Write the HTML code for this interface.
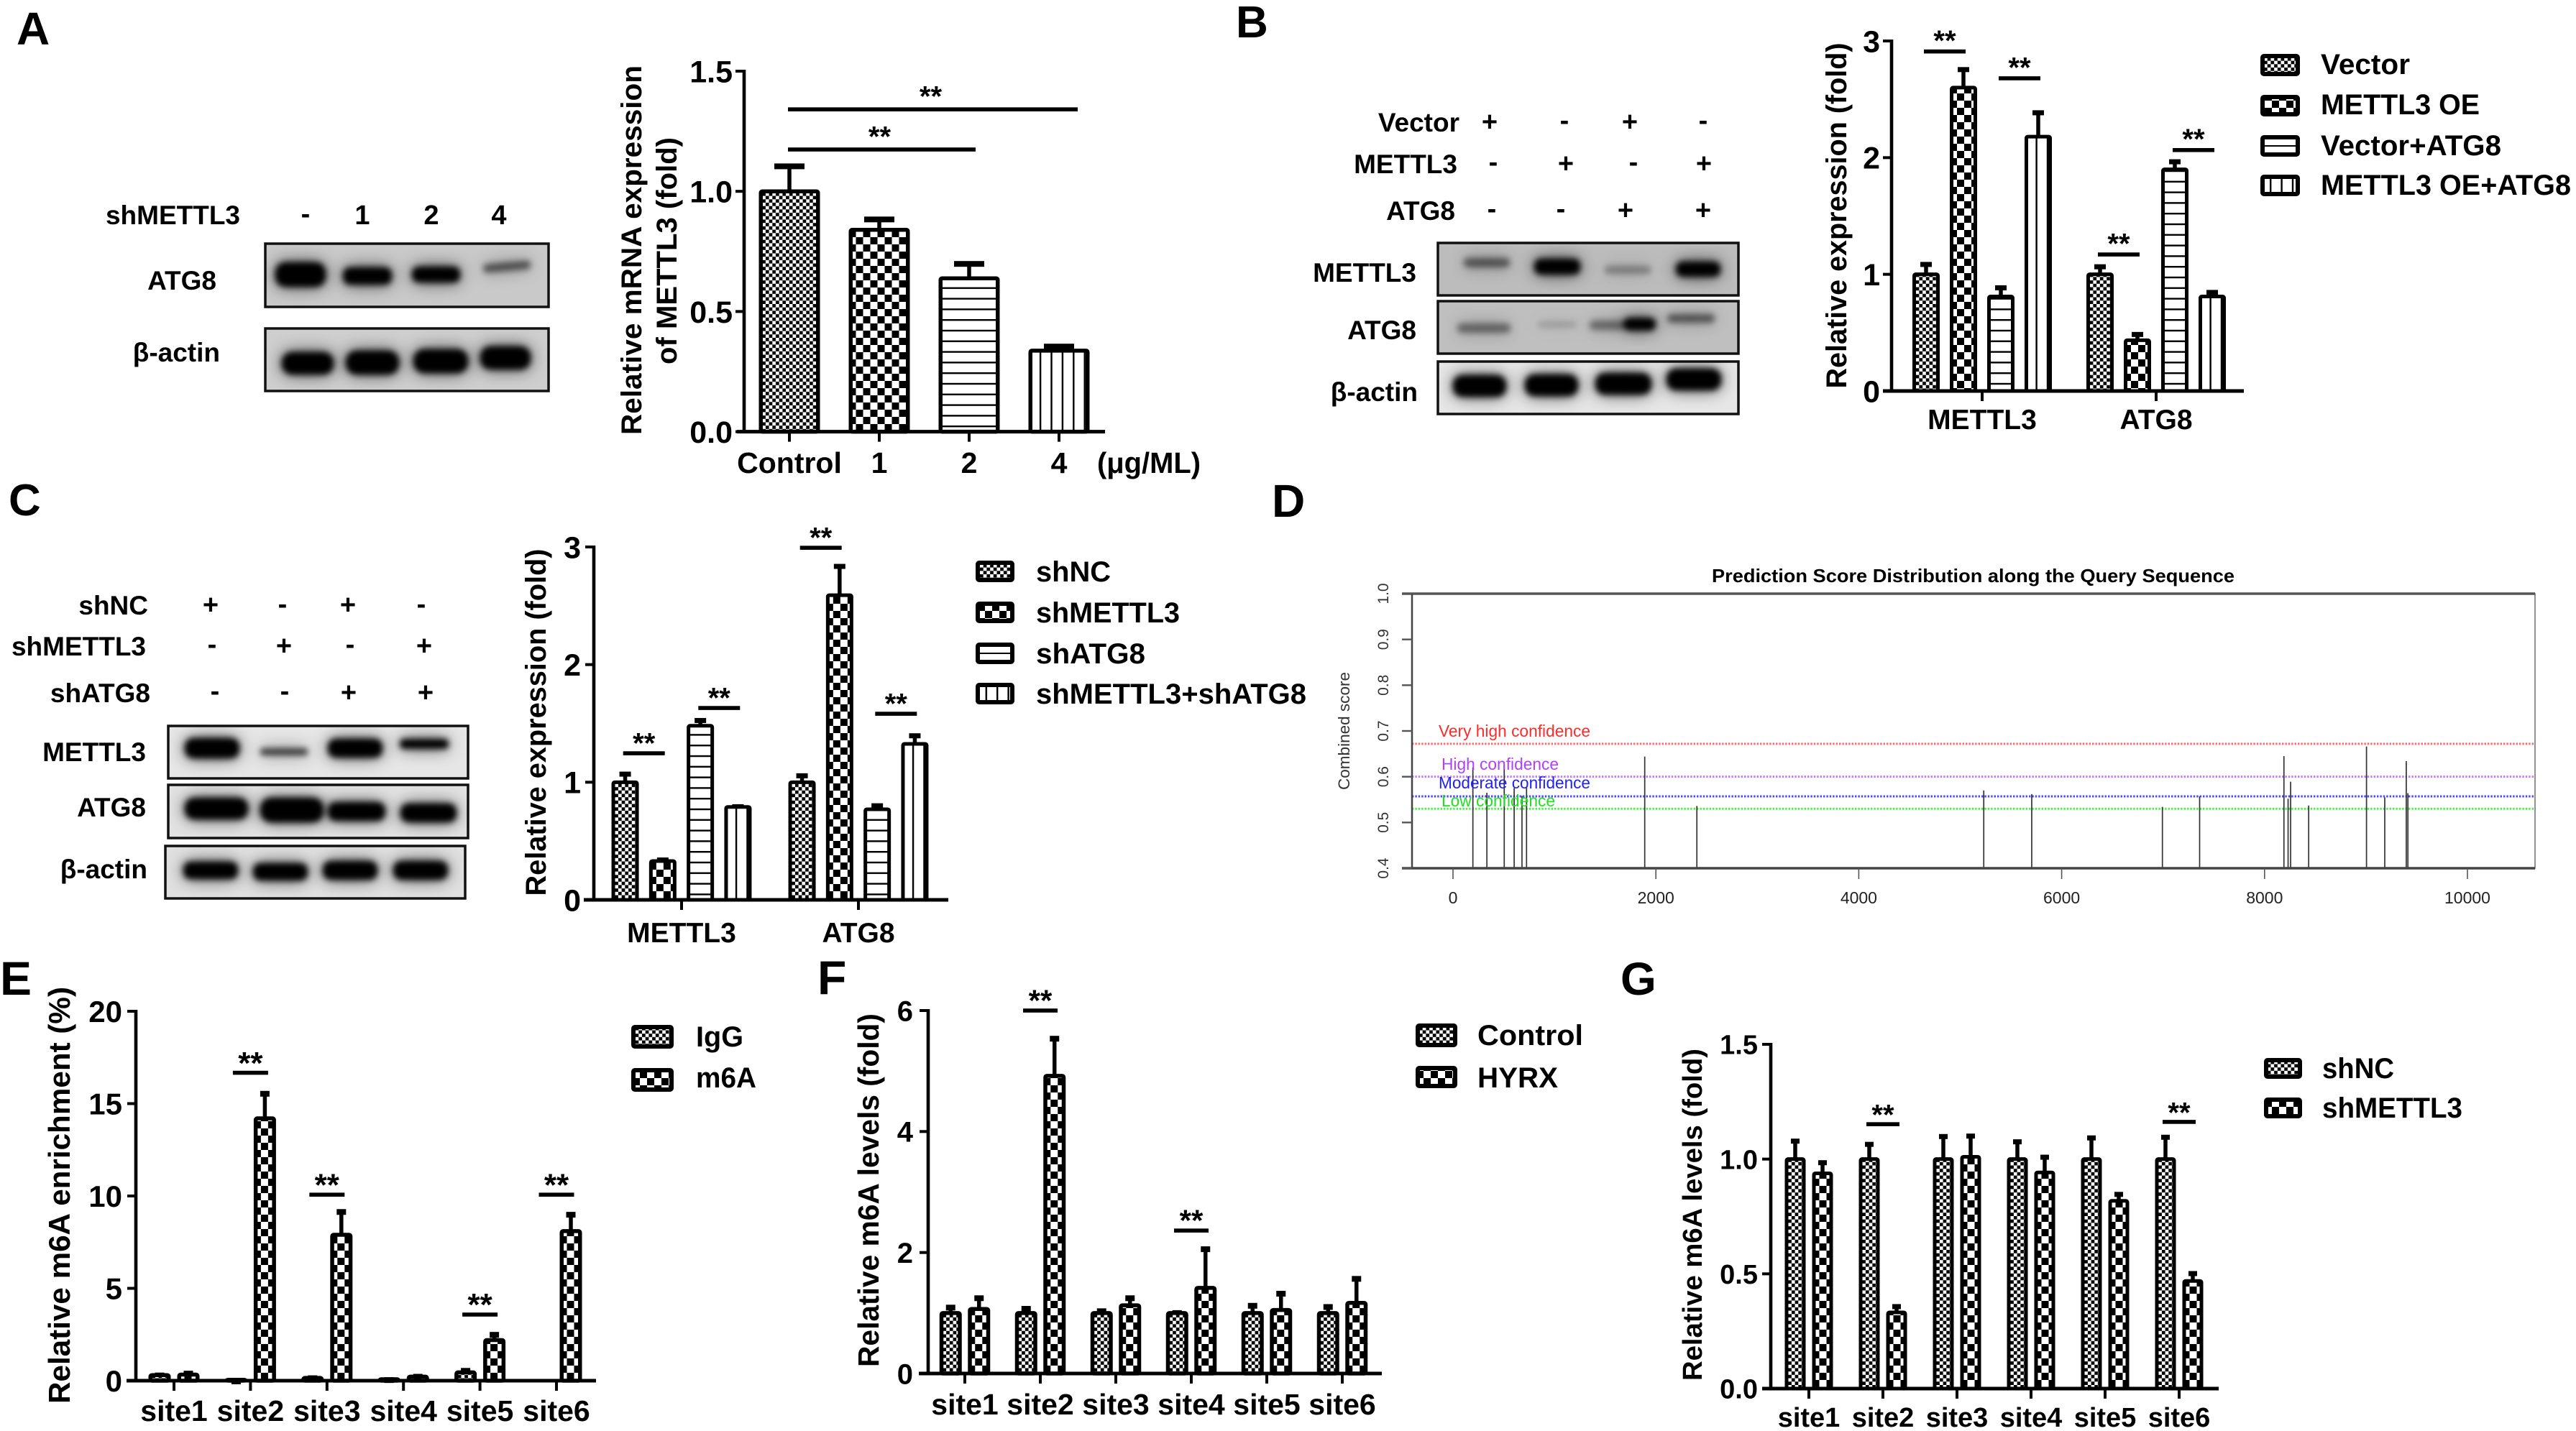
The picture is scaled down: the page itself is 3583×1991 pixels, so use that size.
<!DOCTYPE html>
<html lang="en">
<head>
<meta charset="utf-8">
<title>METTL3 and ATG8 multi-panel figure</title>
<style>
html,body{margin:0;padding:0;background:#fff;}
svg{display:block;}
text{font-family:"Liberation Sans",Arial,sans-serif;font-weight:700;fill:#000;}
.letter{font-size:64px;}
.lab{font-size:37px;}
.pm{font-size:38px;text-anchor:middle;}
.end{text-anchor:end;}
.leg{font-size:40px;}
.mid{text-anchor:middle;}
.reg{font-weight:400;}
</style>
</head>
<body>
<svg id="root" xmlns="http://www.w3.org/2000/svg" width="3583" height="1991" viewBox="0 0 3583 1991">
<defs>
  <pattern id="fine" width="9.4" height="9.4" patternUnits="userSpaceOnUse"><rect width="9.4" height="9.4" fill="#fff"/><rect width="4.7" height="4.7" fill="#000"/><rect x="4.7" y="4.7" width="4.7" height="4.7" fill="#000"/></pattern>
  <pattern id="coarse" width="20" height="20" patternUnits="userSpaceOnUse"><rect width="20" height="20" fill="#fff"/><rect x="0" y="0" width="10" height="10" fill="#000"/><rect x="10" y="10" width="10" height="10" fill="#000"/></pattern>
  <pattern id="hlines" width="10" height="14.8" patternUnits="userSpaceOnUse"><rect width="10" height="14.8" fill="#fff"/><rect width="10" height="2.4" fill="#000"/></pattern>
  <pattern id="vlines" width="15.4" height="10" patternUnits="userSpaceOnUse"><rect width="15.4" height="10" fill="#fff"/><rect width="2.4" height="10" fill="#000"/></pattern>
  <filter id="bandBlur" x="-60%" y="-250%" width="220%" height="600%">
    <feGaussianBlur in="SourceGraphic" stdDeviation="12" result="h"/>
    <feComponentTransfer in="h" result="halo"><feFuncA type="linear" slope="0.72"/></feComponentTransfer>
    <feGaussianBlur in="SourceGraphic" stdDeviation="4.2" result="core"/>
    <feMerge><feMergeNode in="halo"/><feMergeNode in="core"/></feMerge>
  </filter>
  <clipPath id="cA1"><rect x="369" y="339" width="394" height="88"/></clipPath>
  <clipPath id="cA2"><rect x="369" y="457" width="394" height="87"/></clipPath>
  <clipPath id="cB1"><rect x="2000" y="338" width="418" height="73"/></clipPath>
  <clipPath id="cB2"><rect x="2000" y="419" width="418" height="73"/></clipPath>
  <clipPath id="cB3"><rect x="2000" y="503" width="418" height="73"/></clipPath>
  <clipPath id="cC1"><rect x="234" y="1010" width="417" height="73"/></clipPath>
  <clipPath id="cC2"><rect x="234" y="1092" width="417" height="74"/></clipPath>
  <clipPath id="cC3"><rect x="230" y="1177" width="417" height="73"/></clipPath>
</defs>

<!-- panel letters -->
<text class="letter" x="23" y="62" font-size="66">A</text>
<text class="letter" x="1719" y="52" style="font-size:62px">B</text>
<text class="letter" x="12" y="717" style="font-size:62px">C</text>
<text class="letter" x="1769" y="719" style="font-size:64px">D</text>
<text class="letter" x="0" y="1384" style="font-size:66px">E</text>
<text class="letter" x="1137" y="1383" style="font-size:66px">F</text>
<text class="letter" x="2254" y="1384">G</text>

<!-- panel A blot -->
<g>
  <text class="lab end" x="334" y="312">shMETTL3</text>
  <text class="pm" x="425" y="310">-</text>
  <text class="pm" x="504" y="312">1</text>
  <text class="pm" x="600" y="312">2</text>
  <text class="pm" x="694" y="312">4</text>
  <text class="lab end" x="301" y="403">ATG8</text>
  <text class="lab end" x="306" y="503">β-actin</text>
  <g>
    <rect x="369" y="339" width="394" height="88" fill="#c9c9c9"/>
    <g clip-path="url(#cA1)" filter="url(#bandBlur)">
      <rect x="383" y="365" width="70" height="34" rx="14"/>
      <rect x="477" y="372" width="68" height="24" rx="10"/>
      <rect x="573" y="371" width="67" height="22" rx="9"/>
      <rect x="672" y="365" width="66" height="12" rx="5" fill-opacity=".55" transform="rotate(-5 705 370)"/>
    </g>
    <rect x="369" y="339" width="394" height="88" fill="none" stroke="#111" stroke-width="3.5"/>
  </g>
  <g>
    <rect x="369" y="457" width="394" height="87" fill="#cecece"/>
    <g clip-path="url(#cA2)" filter="url(#bandBlur)">
      <rect x="392" y="490" width="72" height="31" rx="14"/>
      <rect x="481" y="488" width="74" height="33" rx="15"/>
      <rect x="575" y="486" width="76" height="33" rx="15"/>
      <rect x="668" y="482" width="70" height="32" rx="14"/>
    </g>
    <rect x="369" y="457" width="394" height="87" fill="none" stroke="#111" stroke-width="3.5"/>
  </g>
</g>

<!-- panel A chart static text -->
<text font-size="40" text-anchor="middle" textLength="514" lengthAdjust="spacingAndGlyphs" transform="translate(892,348) rotate(-90)">Relative mRNA expression</text>
<text font-size="40" text-anchor="middle" textLength="316" lengthAdjust="spacingAndGlyphs" transform="translate(941,349) rotate(-90)">of METTL3 (fold)</text>
<text font-size="41" x="1526" y="658" textLength="144" lengthAdjust="spacingAndGlyphs">(μg/ML)</text>
<g id="chartA"></g>

<!-- panel B blot -->
<g>
  <text class="lab end" x="2030" y="183">Vector</text>
  <text class="lab end" x="2027" y="241">METTL3</text>
  <text class="lab end" x="2024" y="306">ATG8</text>
  <text class="pm" x="2072" y="182">+</text>
  <text class="pm" x="2176" y="180">-</text>
  <text class="pm" x="2267" y="182">+</text>
  <text class="pm" x="2369" y="180">-</text>
  <text class="pm" x="2077" y="238">-</text>
  <text class="pm" x="2178" y="240">+</text>
  <text class="pm" x="2272" y="238">-</text>
  <text class="pm" x="2370" y="240">+</text>
  <text class="pm" x="2075" y="303">-</text>
  <text class="pm" x="2171" y="303">-</text>
  <text class="pm" x="2261" y="305">+</text>
  <text class="pm" x="2369" y="305">+</text>
  <text class="lab end" x="1970" y="392">METTL3</text>
  <text class="lab end" x="1970" y="472">ATG8</text>
  <text class="lab end" x="1972" y="558">β-actin</text>
  <g>
    <rect x="2000" y="338" width="418" height="73" fill="#bcbcbc"/>
    <g clip-path="url(#cB1)" filter="url(#bandBlur)">
      <rect x="2036" y="359" width="64" height="13" rx="6" fill-opacity=".5"/>
      <rect x="2134" y="360" width="64" height="22" rx="9"/>
      <rect x="2232" y="370" width="64" height="11" rx="5" fill-opacity=".3"/>
      <rect x="2331" y="364" width="62" height="21" rx="9"/>
    </g>
    <rect x="2000" y="338" width="418" height="73" fill="none" stroke="#111" stroke-width="3.5"/>
  </g>
  <g>
    <rect x="2000" y="419" width="418" height="73" fill="#bfbfbf"/>
    <g clip-path="url(#cB2)" filter="url(#bandBlur)">
      <rect x="2027" y="450" width="74" height="13" rx="6" fill-opacity=".42"/>
      <rect x="2139" y="447" width="54" height="9" rx="4" fill-opacity=".16"/>
      <rect x="2211" y="446" width="50" height="13" rx="6" fill-opacity=".4"/>
      <rect x="2258" y="442" width="45" height="18" rx="8"/>
      <rect x="2319" y="437" width="66" height="12" rx="5" fill-opacity=".5"/>
    </g>
    <rect x="2000" y="419" width="418" height="73" fill="none" stroke="#111" stroke-width="3.5"/>
  </g>
  <g>
    <rect x="2000" y="503" width="418" height="73" fill="#e6e6e6"/>
    <g clip-path="url(#cB3)" filter="url(#bandBlur)">
      <rect x="2021" y="522" width="74" height="30" rx="13"/>
      <rect x="2121" y="521" width="74" height="30" rx="13"/>
      <rect x="2219" y="519" width="78" height="30" rx="13"/>
      <rect x="2318" y="513" width="76" height="30" rx="13"/>
    </g>
    <rect x="2000" y="503" width="418" height="73" fill="none" stroke="#111" stroke-width="3.5"/>
  </g>
</g>
<text font-size="40" text-anchor="middle" textLength="481" lengthAdjust="spacingAndGlyphs" transform="translate(2568,300) rotate(-90)">Relative expression (fold)</text>
<g id="chartB"></g>
<g>
  <rect x="3147" y="78" width="49" height="25" rx="2" fill="url(#fine)" stroke="#000" stroke-width="6"/>
  <rect x="3147" y="135" width="49" height="24" rx="2" fill="url(#coarse)" stroke="#000" stroke-width="6"/>
  <rect x="3147" y="191" width="49" height="24" rx="2" fill="#fff" stroke="#000" stroke-width="6"/>
  <rect x="3147" y="202" width="49" height="2" fill="#000"/>
  <rect x="3147" y="246" width="49" height="24" rx="2" fill="url(#vlines)" stroke="#000" stroke-width="6"/>
  <text class="leg" x="3228" y="103" textLength="124" lengthAdjust="spacingAndGlyphs">Vector</text>
  <text class="leg" x="3228" y="159" textLength="221" lengthAdjust="spacingAndGlyphs">METTL3 OE</text>
  <text class="leg" x="3228" y="216" textLength="251" lengthAdjust="spacingAndGlyphs">Vector+ATG8</text>
  <text class="leg" x="3228" y="271" textLength="348" lengthAdjust="spacingAndGlyphs">METTL3 OE+ATG8</text>
</g>

<!-- panel C blot -->
<g>
  <text class="lab end" x="206" y="855">shNC</text>
  <text class="lab end" x="203" y="912">shMETTL3</text>
  <text class="lab end" x="209" y="977">shATG8</text>
  <text class="pm" x="293" y="854">+</text>
  <text class="pm" x="393" y="853">-</text>
  <text class="pm" x="484" y="854">+</text>
  <text class="pm" x="586" y="853">-</text>
  <text class="pm" x="295" y="909">-</text>
  <text class="pm" x="395" y="911">+</text>
  <text class="pm" x="487" y="909">-</text>
  <text class="pm" x="590" y="911">+</text>
  <text class="pm" x="299" y="974">-</text>
  <text class="pm" x="396" y="974">-</text>
  <text class="pm" x="485" y="976">+</text>
  <text class="pm" x="592" y="976">+</text>
  <text class="lab end" x="203" y="1059">METTL3</text>
  <text class="lab end" x="203" y="1136">ATG8</text>
  <text class="lab end" x="205" y="1222">β-actin</text>
  <g>
    <rect x="234" y="1010" width="417" height="73" fill="#e6e6e6"/>
    <g clip-path="url(#cC1)" filter="url(#bandBlur)">
      <rect x="257" y="1027" width="76" height="28" rx="12"/>
      <rect x="362" y="1041" width="66" height="10" rx="4" fill-opacity=".7"/>
      <rect x="456" y="1028" width="76" height="26" rx="11"/>
      <rect x="556" y="1028" width="68" height="14" rx="6"/>
    </g>
    <rect x="234" y="1010" width="417" height="73" fill="none" stroke="#111" stroke-width="3.5"/>
  </g>
  <g>
    <rect x="234" y="1092" width="417" height="74" fill="#e2e2e2"/>
    <g clip-path="url(#cC2)" filter="url(#bandBlur)">
      <rect x="257" y="1110" width="88" height="30" rx="13"/>
      <rect x="362" y="1110" width="88" height="34" rx="15"/>
      <rect x="456" y="1116" width="80" height="26" rx="11"/>
      <rect x="557" y="1118" width="78" height="26" rx="11"/>
    </g>
    <rect x="234" y="1092" width="417" height="74" fill="none" stroke="#111" stroke-width="3.5"/>
  </g>
  <g>
    <rect x="230" y="1177" width="417" height="73" fill="#e0e0e0"/>
    <g clip-path="url(#cC3)" filter="url(#bandBlur)">
      <rect x="255" y="1199" width="76" height="24" rx="10"/>
      <rect x="352" y="1201" width="76" height="24" rx="10"/>
      <rect x="449" y="1198" width="76" height="26" rx="11"/>
      <rect x="547" y="1198" width="76" height="26" rx="11"/>
    </g>
    <rect x="230" y="1177" width="417" height="73" fill="none" stroke="#111" stroke-width="3.5"/>
  </g>
</g>
<text font-size="40" text-anchor="middle" textLength="483" lengthAdjust="spacingAndGlyphs" transform="translate(759,1005) rotate(-90)">Relative expression (fold)</text>
<g id="chartC"></g>
<g>
  <rect x="1360" y="783" width="48" height="24" rx="2" fill="url(#fine)" stroke="#000" stroke-width="6"/>
  <rect x="1360" y="840" width="48" height="24" rx="2" fill="url(#coarse)" stroke="#000" stroke-width="6"/>
  <rect x="1360" y="897" width="48" height="24" rx="2" fill="#fff" stroke="#000" stroke-width="6"/>
  <rect x="1360" y="908" width="48" height="2" fill="#000"/>
  <rect x="1360" y="953" width="48" height="24" rx="2" fill="url(#vlines)" stroke="#000" stroke-width="6"/>
  <text class="leg" x="1441" y="809" textLength="104" lengthAdjust="spacingAndGlyphs">shNC</text>
  <text class="leg" x="1441" y="866" textLength="200" lengthAdjust="spacingAndGlyphs">shMETTL3</text>
  <text class="leg" x="1441" y="923" textLength="152" lengthAdjust="spacingAndGlyphs">shATG8</text>
  <text class="leg" x="1441" y="979" textLength="376" lengthAdjust="spacingAndGlyphs">shMETTL3+shATG8</text>
</g>

<!-- panel D -->
<g id="chartD"></g>
<text font-size="26" x="2381" y="810" textLength="727" lengthAdjust="spacingAndGlyphs">Prediction Score Distribution along the Query Sequence</text>
<text class="reg" font-size="22" text-anchor="middle" textLength="164" lengthAdjust="spacingAndGlyphs" transform="translate(1877,1017) rotate(-90)" style="fill:#333">Combined score</text>
<text class="reg" font-size="23" x="2001" y="1025" textLength="211" lengthAdjust="spacingAndGlyphs" style="fill:#ff2a2a">Very high confidence</text>
<text class="reg" font-size="23" x="2005" y="1071" textLength="163" lengthAdjust="spacingAndGlyphs" style="fill:#b040ff">High confidence</text>
<text class="reg" font-size="23" x="2001" y="1097" textLength="211" lengthAdjust="spacingAndGlyphs" style="fill:#2020ff">Moderate confidence</text>
<text class="reg" font-size="23" x="2005" y="1122" textLength="158" lengthAdjust="spacingAndGlyphs" style="fill:#20e020">Low confidence</text>

<!-- panel E -->
<text font-size="42" text-anchor="middle" textLength="580" lengthAdjust="spacingAndGlyphs" transform="translate(97,1663) rotate(-90)">Relative m6A enrichment (%)</text>
<g id="chartE"></g>
<g>
  <rect x="881" y="1429" width="53" height="27" rx="2" fill="url(#fine)" stroke="#000" stroke-width="6"/>
  <rect x="881" y="1489" width="53" height="27" rx="2" fill="url(#coarse)" stroke="#000" stroke-width="6"/>
  <text class="leg" x="968" y="1456" textLength="66" lengthAdjust="spacingAndGlyphs">IgG</text>
  <text class="leg" x="968" y="1513" textLength="84" lengthAdjust="spacingAndGlyphs">m6A</text>
</g>

<!-- panel F -->
<text font-size="40.6" text-anchor="middle" textLength="492" lengthAdjust="spacingAndGlyphs" transform="translate(1222,1656) rotate(-90)">Relative m6A levels (fold)</text>
<g id="chartF"></g>
<g>
  <rect x="1972" y="1427" width="52" height="27" rx="2" fill="url(#fine)" stroke="#000" stroke-width="6"/>
  <rect x="1972" y="1486" width="52" height="25" rx="2" fill="url(#coarse)" stroke="#000" stroke-width="6"/>
  <text class="leg" x="2055" y="1454" textLength="147" lengthAdjust="spacingAndGlyphs">Control</text>
  <text class="leg" x="2055" y="1513" textLength="112" lengthAdjust="spacingAndGlyphs">HYRX</text>
</g>

<!-- panel G -->
<text font-size="38" text-anchor="middle" textLength="462" lengthAdjust="spacingAndGlyphs" transform="translate(2367,1690) rotate(-90)">Relative m6A levels (fold)</text>
<g id="chartG"></g>
<g>
  <rect x="3152" y="1475" width="47" height="23" rx="2" fill="url(#fine)" stroke="#000" stroke-width="6"/>
  <rect x="3152" y="1530" width="47" height="23" rx="2" fill="url(#coarse)" stroke="#000" stroke-width="6"/>
  <text class="leg" x="3230" y="1500" textLength="100" lengthAdjust="spacingAndGlyphs">shNC</text>
  <text class="leg" x="3230" y="1555" textLength="195" lengthAdjust="spacingAndGlyphs">shMETTL3</text>
</g>
</svg>

<script>
/* ---------- Panel A data ---------- */
const aCategories = ['Control', '1', '2', '4'];
const aValues = [1.0, 0.84, 0.638, 0.337];
const aErrors = [0.113, 0.052, 0.069, 0.026];
const aTickValues = [0, 0.5, 1.0, 1.5];
const aTickLabels = ['0.0', '0.5', '1.0', '1.5'];
const aSigFrom = [0, 0];
const aSigTo = [3, 2];
const aSigLevels = [1.341, 1.174];

/* ---------- Panel B data ---------- */
const bCategories = ['METTL3', 'ATG8'];
const bVector = [1.0, 1.0];
const bVectorErr = [0.10, 0.08];
const bOE = [2.60, 0.435];
const bOEErr = [0.17, 0.065];
const bVectorATG8 = [0.81, 1.90];
const bVectorATG8Err = [0.09, 0.08];
const bOEATG8 = [2.18, 0.81];
const bOEATG8Err = [0.22, 0.05];
const bTickValues = [0, 1, 2, 3];
const bTickLabels = ['0', '1', '2', '3'];
const bSigGroups = [0, 0, 1, 1];
const bSigPairs = [0, 2, 0, 2];
const bSigLevels = [2.91, 2.68, 1.17, 2.065];

/* ---------- Panel C data ---------- */
const cCategories = ['METTL3', 'ATG8'];
const cShNC = [1.0, 1.0];
const cShNCErr = [0.084, 0.07];
const cShMETTL3 = [0.33, 2.59];
const cShMETTL3Err = [0.024, 0.26];
const cShATG8 = [1.48, 0.77];
const cShATG8Err = [0.06, 0.045];
const cBoth = [0.79, 1.326];
const cBothErr = [0.017, 0.084];
const cTickValues = [0, 1, 2, 3];
const cTickLabels = ['0', '1', '2', '3'];
const cSigGroups = [0, 0, 1, 1];
const cSigPairs = [0, 2, 0, 2];
const cSigLevels = [1.246, 1.631, 2.993, 1.582];

/* ---------- Panel D data ---------- */
const dPositions = [196, 334, 505, 603, 680, 725, 1890, 2404, 5232, 5705, 6993, 7360, 8191, 8232, 8257, 8435, 9005, 9185, 9397, 9413];
const dScores = [0.62, 0.565, 0.626, 0.575, 0.558, 0.578, 0.644, 0.536, 0.57, 0.562, 0.534, 0.557, 0.645, 0.552, 0.589, 0.537, 0.666, 0.555, 0.634, 0.564];
const dThresholdValues = [0.672, 0.60, 0.557, 0.53];
const dThresholdNames = ['very-high', 'high', 'moderate', 'low'];
const dXTicks = [0, 2000, 4000, 6000, 8000, 10000];
const dYTicks = [0.4, 0.5, 0.6, 0.7, 0.8, 0.9, 1.0];

/* ---------- Panel E data ---------- */
const eCategories = ['site1', 'site2', 'site3', 'site4', 'site5', 'site6'];
const eIgG = [0.30, 0.05, 0.15, 0.08, 0.45, 0];
const eIgGErr = [0.10, 0.03, 0.10, 0.07, 0.20, 0];
const eM6A = [0.33, 14.2, 7.9, 0.22, 2.2, 8.1];
const eM6AErr = [0.17, 1.45, 1.35, 0.11, 0.40, 1.0];
const eTickValues = [0, 5, 10, 15, 20];
const eTickLabels = ['0', '5', '10', '15', '20'];
const eSigGroups = [1, 2, 4, 5];
const eSigPairs = [0, 0, 0, 0];
const eSigLevels = [16.67, 10.07, 3.58, 10.07];

/* ---------- Panel F data ---------- */
const fCategories = ['site1', 'site2', 'site3', 'site4', 'site5', 'site6'];
const fControl = [1.0, 1.0, 1.0, 1.0, 1.0, 1.0];
const fControlErr = [0.125, 0.105, 0.065, 0.035, 0.155, 0.135];
const fHYRX = [1.066, 4.92, 1.127, 1.416, 1.05, 1.167];
const fHYRXErr = [0.214, 0.65, 0.153, 0.674, 0.305, 0.433];
const fTickValues = [0, 2, 4, 6];
const fTickLabels = ['0', '2', '4', '6'];
const fSigGroups = [1, 3];
const fSigPairs = [0, 0];
const fSigLevels = [6.0, 2.363];

/* ---------- Panel G data ---------- */
const gCategories = ['site1', 'site2', 'site3', 'site4', 'site5', 'site6'];
const gShNC = [1.0, 1.0, 1.0, 1.0, 1.0, 1.0];
const gShNCErr = [0.086, 0.072, 0.106, 0.083, 0.10, 0.103];
const gShMETTL3 = [0.938, 0.332, 1.01, 0.942, 0.818, 0.469];
const gShMETTL3Err = [0.054, 0.033, 0.098, 0.074, 0.036, 0.04];
const gTickValues = [0, 0.5, 1.0, 1.5];
const gTickLabels = ['0.0', '0.5', '1.0', '1.5'];
const gSigGroups = [1, 5];
const gSigPairs = [0, 0];
const gSigLevels = [1.152, 1.162];

const NS = 'http://www.w3.org/2000/svg';
function make(parent, tag, attrs) {
  const node = document.createElementNS(NS, tag);
  for (const k in attrs) node.setAttribute(k, attrs[k]);
  parent.appendChild(node);
  return node;
}

function drawBarChart(c) {
  const root = document.getElementById(c.id);
  const yS = v => c.baseY - v / c.yMax * (c.baseY - c.topY);
  const xC = i => c.firstX + i * c.step;
  const barX = (g, s) => xC(g) + c.barStep * (s - (c.series.length - 1) / 2);

  // bars and error bars
  c.series.forEach((ser, s) => {
    ser.values.forEach((v, g) => {
      if (v <= 0) return;
      const cx = barX(g, s);
      const err = ser.errors[g];
      if (err > 0) {
        const stem = make(root, 'rect', {x: cx - c.stemW / 2, y: yS(v + err), width: c.stemW, height: yS(v) - yS(v + err), fill: '#000'});
        
        
        const cap = make(root, 'rect', {x: cx - c.capW / 2, y: yS(v + err) - 1, width: c.capW, height: c.capH, fill: '#000'});
        
        
      }
      const holder = make(root, 'g', {transform: 'translate(' + (cx - c.barW / 2) + ',0)'});
      const pattern = ser.patterns ? ser.patterns[g] : ser.pattern;
      const bar = make(holder, 'rect', {x: c.border / 2, y: yS(v), width: c.barW - c.border, height: c.baseY - yS(v), rx: 2, fill: 'url(#' + pattern + ')', stroke: '#000', 'stroke-width': c.border});
      
      
    });
  });

  // axes
  const yAxis = make(root, 'rect', {x: c.axisX - 2.3, y: c.topY - 2, width: 4.6, height: c.baseY - c.topY + 4, fill: '#000'});
  
  
  const xAxis = make(root, 'rect', {x: c.axisL, y: c.baseY - 2.5, width: c.axisR - c.axisL, height: 5, fill: '#000'});
  
  

  c.tickValues.forEach((v, i) => {
    const tick = make(root, 'rect', {x: c.axisX - 12, y: yS(v) - 2, width: 12, height: 4, fill: '#000'});
    
    
    const lab = make(root, 'text', {x: c.labelX, y: yS(v) + 0.358 * c.tickFont, 'font-size': c.tickFont, 'text-anchor': 'end'});
    lab.textContent = c.tickLabels[i];
    
    
  });

  c.categories.forEach((cat, i) => {
    const tick = make(root, 'rect', {x: xC(i) - 2, y: c.baseY, width: 4, height: 14, fill: '#000'});
    
    
    const lab = make(root, 'text', {x: xC(i), y: c.xLabelY, 'font-size': c.xFont, 'text-anchor': 'middle'});
    lab.textContent = cat;
    
    
  });

  // significance annotations
  c.sigLevels.forEach((lvl, i) => {
    let x1, x2;
    if (c.sigFrom) {
      x1 = xC(c.sigFrom[i]) - 2;
      x2 = xC(c.sigTo[i]) + c.sigEndPad[i];
    } else {
      const mid = (barX(c.sigGroups[i], c.sigPairs[i]) + barX(c.sigGroups[i], c.sigPairs[i] + 1)) / 2;
      x1 = mid - c.sigHalf;
      x2 = mid + c.sigHalf;
    }
    const line = make(root, 'rect', {x: x1, y: yS(lvl) - 2.8, width: x2 - x1, height: 5.6, fill: '#000'});
    
    
    const star = make(root, 'text', {x: (x1 + x2) / 2 + (c.starDx || 0), y: yS(lvl) - c.starGap + 0.46 * c.starFont, 'font-size': c.starFont, 'text-anchor': 'middle'});
    star.textContent = '**';
    
    
  });
}

drawBarChart({
  id: 'chartA', categories: aCategories,
  series: [{name: 'mrna', values: aValues, errors: aErrors, patterns: ['fine', 'coarse', 'hlines', 'vlines']}],
  tickValues: aTickValues, tickLabels: aTickLabels, yMax: 1.5,
  baseY: 600.6, topY: 99, axisX: 1035, axisL: 1025, axisR: 1537, firstX: 1098, step: 125,
  barW: 85, barStep: 0, border: 5.5, stemW: 5.5, capW: 42, capH: 8,
  labelX: 1019, tickFont: 43, xFont: 41, xLabelY: 658,
  sigFrom: aSigFrom, sigTo: aSigTo, sigLevels: aSigLevels, sigEndPad: [26, 9], starFont: 40, starGap: 23, starDx: -3
});

drawBarChart({
  id: 'chartB', categories: bCategories,
  series: [
    {name: 'vector', values: bVector, errors: bVectorErr, pattern: 'fine'},
    {name: 'mettl3-oe', values: bOE, errors: bOEErr, pattern: 'coarse'},
    {name: 'vector-atg8', values: bVectorATG8, errors: bVectorATG8Err, pattern: 'hlines'},
    {name: 'mettl3-oe-atg8', values: bOEATG8, errors: bOEATG8Err, pattern: 'vlines'}
  ],
  tickValues: bTickValues, tickLabels: bTickLabels, yMax: 3,
  baseY: 544, topY: 57, axisX: 2631, axisL: 2619, axisR: 3121, firstX: 2757, step: 242,
  barW: 38, barStep: 52, border: 5, stemW: 5.5, capW: 16, capH: 7,
  labelX: 2615, tickFont: 43, xFont: 39, xLabelY: 597,
  sigGroups: bSigGroups, sigPairs: bSigPairs, sigLevels: bSigLevels, sigHalf: 29, starFont: 40, starGap: 20
});

drawBarChart({
  id: 'chartC', categories: cCategories,
  series: [
    {name: 'shnc', values: cShNC, errors: cShNCErr, pattern: 'fine'},
    {name: 'shmettl3', values: cShMETTL3, errors: cShMETTL3Err, pattern: 'coarse'},
    {name: 'shatg8', values: cShATG8, errors: cShATG8Err, pattern: 'hlines'},
    {name: 'shmettl3-shatg8', values: cBoth, errors: cBothErr, pattern: 'vlines'}
  ],
  tickValues: cTickValues, tickLabels: cTickLabels, yMax: 3,
  baseY: 1252, topY: 761, axisX: 826, axisL: 812, axisR: 1319, firstX: 948, step: 246,
  barW: 38, barStep: 52.3, border: 5, stemW: 5.5, capW: 16, capH: 7,
  labelX: 808, tickFont: 43, xFont: 39, xLabelY: 1311,
  sigGroups: cSigGroups, sigPairs: cSigPairs, sigLevels: cSigLevels, sigHalf: 29, starFont: 40, starGap: 19
});

drawBarChart({
  id: 'chartE', categories: eCategories,
  series: [
    {name: 'igg', values: eIgG, errors: eIgGErr, pattern: 'fine'},
    {name: 'm6a', values: eM6A, errors: eM6AErr, pattern: 'coarse'}
  ],
  tickValues: eTickValues, tickLabels: eTickLabels, yMax: 20,
  baseY: 1921, topY: 1407, axisX: 189, axisL: 176, axisR: 829, firstX: 242, step: 106.4,
  barW: 31, barStep: 40, border: 5.5, stemW: 5.5, capW: 13, capH: 8,
  labelX: 170, tickFont: 42, xFont: 41, xLabelY: 1977,
  sigGroups: eSigGroups, sigPairs: eSigPairs, sigLevels: eSigLevels, sigHalf: 24.5, starFont: 44, starGap: 19
});

drawBarChart({
  id: 'chartF', categories: fCategories,
  series: [
    {name: 'control', values: fControl, errors: fControlErr, pattern: 'fine'},
    {name: 'hyrx', values: fHYRX, errors: fHYRXErr, pattern: 'coarse'}
  ],
  tickValues: fTickValues, tickLabels: fTickLabels, yMax: 6,
  baseY: 1911, topY: 1406, axisX: 1291, axisL: 1278, axisR: 1922, firstX: 1342, step: 105,
  barW: 31, barStep: 39.5, border: 5.5, stemW: 5.5, capW: 13, capH: 8,
  labelX: 1270, tickFont: 40, xFont: 41, xLabelY: 1968,
  sigGroups: fSigGroups, sigPairs: fSigPairs, sigLevels: fSigLevels, sigHalf: 24, starFont: 42, starGap: 19
});

drawBarChart({
  id: 'chartG', categories: gCategories,
  series: [
    {name: 'shnc', values: gShNC, errors: gShNCErr, pattern: 'fine'},
    {name: 'shmettl3', values: gShMETTL3, errors: gShMETTL3Err, pattern: 'coarse'}
  ],
  tickValues: gTickValues, tickLabels: gTickLabels, yMax: 1.5,
  baseY: 1932, topY: 1453, axisX: 2463, axisL: 2451, axisR: 3086, firstX: 2516, step: 103,
  barW: 29, barStep: 38, border: 5, stemW: 5.5, capW: 12, capH: 7,
  labelX: 2445, tickFont: 38, xFont: 38, xLabelY: 1985,
  sigGroups: gSigGroups, sigPairs: gSigPairs, sigLevels: gSigLevels, sigHalf: 23, starFont: 40, starGap: 18
});

/* Panel D: needle plot */
(function () {
  const root = document.getElementById('chartD');
  const L = 1964, R = 3526, T = 826, B = 1208;
  const xS = v => 2021 + v / 10000 * (3432 - 2021);
  const yS = v => B - (v - 0.4) / 0.6 * (B - T);
  const thresholdColors = ['#ff6a6a', '#c27bff', '#4a4aff', '#4cf04c'];

  dThresholdValues.forEach((v, i) => {
    const th = make(root, 'line', {x1: L, x2: R, y1: yS(v), y2: yS(v), stroke: thresholdColors[i], 'stroke-width': 3, 'stroke-dasharray': '2.4 2'});
    
    
  });

  dPositions.forEach((p, i) => {
    const needle = make(root, 'line', {x1: xS(p), x2: xS(p), y1: B, y2: yS(dScores[i]), stroke: '#333', 'stroke-width': 1.7});
    
    
  });

  const box = make(root, 'rect', {x: L, y: T, width: R - L, height: B - T, fill: 'none', stroke: '#777', 'stroke-width': 1.6});
  
  
  const topEdge = make(root, 'line', {x1: 1950, x2: R, y1: T, y2: T, stroke: '#555', 'stroke-width': 3.5});
  
  
  const bottomEdge = make(root, 'line', {x1: 1950, x2: R, y1: B, y2: B, stroke: '#444', 'stroke-width': 3.5});
  
  
  const leftEdge = make(root, 'line', {x1: L, x2: L, y1: T, y2: B, stroke: '#444', 'stroke-width': 2.5});
  
  

  dXTicks.forEach(v => {
    const tick = make(root, 'line', {x1: xS(v), x2: xS(v), y1: B, y2: B + 15, stroke: '#555', 'stroke-width': 1.6});
    
    
    const lab = make(root, 'text', {x: xS(v), y: B + 49, 'font-size': 23, 'text-anchor': 'middle', style: 'font-weight:400;fill:#222'});
    lab.textContent = String(v);
    
    
  });

  dYTicks.forEach(v => {
    const tick = make(root, 'line', {x1: 1950, x2: L, y1: yS(v), y2: yS(v), stroke: '#555', 'stroke-width': 2.4});
    
    
    const lab = make(root, 'text', {transform: 'translate(1931,' + yS(v) + ') rotate(-90)', 'font-size': 21, 'text-anchor': 'middle', style: 'font-weight:400;fill:#333'});
    lab.textContent = v.toFixed(1);
    
    
  });
})();
</script>
</body>
</html>
